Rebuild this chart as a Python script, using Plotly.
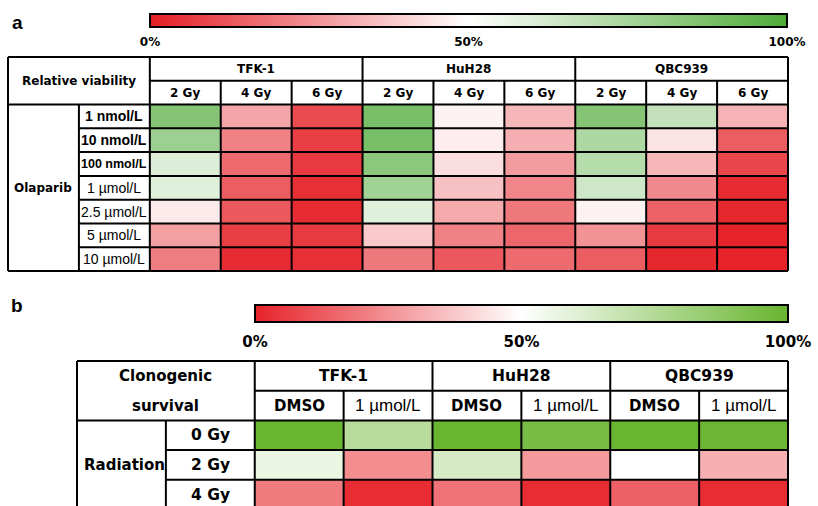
import plotly.graph_objects as go

# ---------------- data: panel a (relative viability, %) ----------------
a_lines = ["TFK-1", "HuH28", "QBC939"]
a_doses = ["2 Gy", "4 Gy", "6 Gy"]
a_concs = ["1 nmol/L", "10 nmol/L", "100 nmol/L", "1 µmol/L",
           "2.5 µmol/L", "5 µmol/L", "10 µmol/L"]
tfk1_2gy = [85, 78, 60, 59, 45, 29, 21]
tfk1_4gy = [30, 22, 17, 14, 13, 7, 3]
tfk1_6gy = [10, 7, 6, 4, 3, 6, 4]
huh28_2gy = [88, 88, 83, 77, 59, 38, 20]
huh28_4gy = [47, 46, 43, 36, 31, 22, 13]
huh28_6gy = [34, 32, 28, 23, 20, 16, 17]
qbc939_2gy = [85, 73, 71, 64, 47, 26, 14]
qbc939_4gy = [67, 44, 34, 24, 15, 6, 2]
qbc939_6gy = [33, 14, 9, 3, 2, 1, 1]

# ---------------- data: panel b (clonogenic survival, %) ----------------
b_lines = ["TFK-1", "HuH28", "QBC939"]
b_treats = ["DMSO", "1 µmol/L"]
b_doses = ["0 Gy", "2 Gy", "4 Gy"]
tfk1_dmso = [100, 57, 20]
tfk1_ola = [74, 24, 2]
huh28_dmso = [100, 64, 18]
huh28_ola = [95, 27, 2]
qbc939_dmso = [100, 50, 14]
qbc939_ola = [99, 32, 2]

bar_ticks = [0, 50, 100]
bar_labels = ["0%", "50%", "100%"]

# ---------------- assemble matrices ----------------
a_cols = [tfk1_2gy, tfk1_4gy, tfk1_6gy, huh28_2gy, huh28_4gy, huh28_6gy,
          qbc939_2gy, qbc939_4gy, qbc939_6gy]
za = [[col[i] for col in a_cols] for i in range(len(a_concs))]
b_cols = [tfk1_dmso, tfk1_ola, huh28_dmso, huh28_ola, qbc939_dmso, qbc939_ola]
zb = [[col[i] for col in b_cols] for i in range(len(b_doses))]

W, H = 818, 506
HEAD = "DejaVu Sans"
ARIAL = "Liberation Sans, Arial"


def xgeom(left, right, units, pad=3):
    unit = (right - left) / units
    d0, d1 = max(0, left - pad), min(W, right + pad)
    return [d0 / W, d1 / W], [(d0 - left) / unit, (d1 - left) / unit]


def ygeom(top, unit, pad=3):
    d0 = max(0, top - pad)
    d1 = H
    return [1 - d1 / H, 1 - d0 / H], [(d1 - top) / unit, (d0 - top) / unit]


fig = go.Figure()

# ----- table a geometry -----
na_data_cols = len(a_lines) * len(a_doses)
na_cols = 2 + na_data_cols
na_rows = 2 + len(a_concs)
a_left, a_right, a_top, a_bottom = 8, 788, 57, 271
a_unit_y = (a_bottom - a_top) / na_rows
ax_dom, ax_rng = xgeom(a_left, a_right, na_cols)
ay_dom = [1 - (a_bottom + 3) / H, 1 - (a_top - 3) / H]
ay_rng = [(a_bottom + 3 - a_top) / a_unit_y, -3 / a_unit_y]

# ----- table b geometry -----
nb_data_cols = len(b_lines) * len(b_treats)
nb_cols = 2 + nb_data_cols
nb_rows = 2 + len(b_doses)
b_left, b_right, b_top, b_unit_y = 77, 788, 361, 29.7
bx_dom, bx_rng = xgeom(b_left, b_right, nb_cols)
by_dom, by_rng = ygeom(b_top, b_unit_y)

fig.add_trace(go.Heatmap(z=za, x0=2.5, dx=1, y0=2.5, dy=1, coloraxis="coloraxis",
                         xaxis="x", yaxis="y", hoverinfo="skip"))
fig.add_trace(go.Heatmap(z=zb, x0=2.5, dx=1, y0=2.5, dy=1, coloraxis="coloraxis2",
                         xaxis="x2", yaxis="y2", hoverinfo="skip"))

shapes = []


def seg(xr, yr, x0, y0, x1, y1):
    shapes.append(dict(type="line", xref=xr, yref=yr, x0=x0, y0=y0, x1=x1, y1=y1,
                       line=dict(color="black", width=2), layer="above"))


def table_lines(xr, yr, ncols, nrows, group):
    # verticals
    for xv in range(ncols + 1):
        if xv in (0, 2, ncols) or (xv > 2 and (xv - 2) % group == 0):
            seg(xr, yr, xv, 0, xv, nrows)
        elif xv == 1:
            seg(xr, yr, xv, 2, xv, nrows)
        else:
            seg(xr, yr, xv, 1, xv, nrows)
    # horizontals
    for yv in range(nrows + 1):
        if yv in (0, 2, nrows):
            seg(xr, yr, 0, yv, ncols, yv)
        elif yv == 1:
            seg(xr, yr, 2, yv, ncols, yv)
        else:
            seg(xr, yr, 1, yv, ncols, yv)


table_lines("x", "y", na_cols, na_rows, len(a_doses))
table_lines("x2", "y2", nb_cols, nb_rows, len(b_treats))

ann = []


def txt(xr, yr, x, y, s, size, family=HEAD, weight="bold"):
    ann.append(dict(xref=xr, yref=yr, x=x, y=y, text=s, showarrow=False,
                    xanchor="center", yanchor="middle",
                    font=dict(family=family, size=size, color="black", weight=weight)))


# panel a texts
txt("x", "y", 1, 1, "Relative viability", 12)
for g, name in enumerate(a_lines):
    txt("x", "y", 2 + g * len(a_doses) + len(a_doses) / 2, 0.5, name, 12)
    for k, d in enumerate(a_doses):
        txt("x", "y", 2 + g * len(a_doses) + k + 0.5, 1.5, d, 12)
for i, c in enumerate(a_concs):
    if "nmol" in c:
        txt("x", "y", 1.5, 2.5 + i, c, 12.5 if len(c) > 9 else 14, ARIAL, "bold")
    else:
        txt("x", "y", 1.5, 2.5 + i, c, 14, ARIAL, "normal")
txt("x", "y", 0.5, 2 + len(a_concs) / 2, "Olaparib", 12)

# panel b texts
txt("x2", "y2", 1, 0.5, "Clonogenic", 15)
txt("x2", "y2", 1, 1.5, "survival", 15)
for g, name in enumerate(b_lines):
    txt("x2", "y2", 2 + g * len(b_treats) + len(b_treats) / 2, 0.5, name, 15.5)
    for k, t in enumerate(b_treats):
        if t == "DMSO":
            txt("x2", "y2", 2 + g * len(b_treats) + k + 0.5, 1.5, t, 15)
        else:
            txt("x2", "y2", 2 + g * len(b_treats) + k + 0.5, 1.5, t, 17, ARIAL, "normal")
for i, d in enumerate(b_doses):
    txt("x2", "y2", 1.5, 2.5 + i, d, 15.5)
txt("x2", "y2", 0.5 + 0.04, 2 + len(b_doses) / 2, "Radiation", 15)

# panel letters
ann.append(dict(xref="paper", yref="paper", x=17 / W, y=1 - 23 / H, text="a", showarrow=False,
                xanchor="center", yanchor="middle",
                font=dict(family=ARIAL, size=19, color="black", weight="bold")))
ann.append(dict(xref="paper", yref="paper", x=17 / W, y=1 - 305 / H, text="b", showarrow=False,
                xanchor="center", yanchor="middle",
                font=dict(family=ARIAL, size=19, color="black", weight="bold")))

scale_a = [[0, "#e41e25"], [0.5, "#ffffff"], [1, "#4fab38"]]
scale_b = [[0, "#e6232a"], [0.5, "#ffffff"], [1, "#68b52f"]]


def cbar(x0, x1, top, thick, fsize, tlen):
    return dict(orientation="h", x=x0 / W, xanchor="left", xref="paper",
                y=1 - top / H, yanchor="top", yref="paper",
                len=x1 - x0, lenmode="pixels", thickness=thick, thicknessmode="pixels",
                outlinewidth=2, outlinecolor="black", xpad=0, ypad=0,
                tickvals=bar_ticks, ticktext=bar_labels, ticks="outside", ticklen=tlen,
                tickcolor="rgba(0,0,0,0)",
                tickfont=dict(family=HEAD, size=fsize, color="black", weight="bold"))


axis_off = dict(visible=False, showgrid=False, zeroline=False, fixedrange=True)
fig.update_layout(
    width=W, height=H, margin=dict(l=0, r=0, t=0, b=0),
    paper_bgcolor="white", plot_bgcolor="white",
    xaxis=dict(domain=ax_dom, range=ax_rng, anchor="y", **axis_off),
    yaxis=dict(domain=ay_dom, range=ay_rng, anchor="x", **axis_off),
    xaxis2=dict(domain=bx_dom, range=bx_rng, anchor="y2", **axis_off),
    yaxis2=dict(domain=by_dom, range=by_rng, anchor="x2", **axis_off),
    coloraxis=dict(colorscale=scale_a, cmin=0, cmax=100,
                   colorbar=cbar(150, 787, 14, 13, 12, 4)),
    coloraxis2=dict(colorscale=scale_b, cmin=0, cmax=100,
                    colorbar=cbar(255, 788, 305, 17, 15, 6)),
    shapes=shapes, annotations=ann, showlegend=False,
)

fig.write_html("out.html", config={"displayModeBar": False, "staticPlot": True},
               post_script="document.body.style.margin='0';document.body.style.overflow='hidden';")
